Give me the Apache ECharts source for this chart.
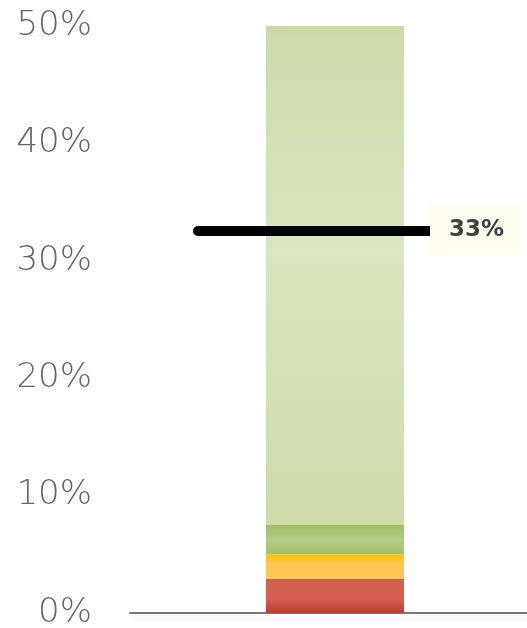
<!DOCTYPE html>
<html><head><meta charset="utf-8">
<script src="https://cdn.jsdelivr.net/npm/echarts@6/dist/echarts.min.js"></script>
<style>html,body{margin:0;padding:0;background:#fff}#c{width:527px;height:628px}</style>
</head><body><div id="c"></div>
<script>
const categories = ['Total'];
const redValues = [2.9];
const yellowValues = [2.1];
const greenValues = [2.5];
const lightGreenValues = [42.5];
const targetValue = 32.6;
const yTicks = [0, 10, 20, 30, 40, 50];

function grad(stops){
  return new echarts.graphic.LinearGradient(0,0,0,1, stops.map(s=>({offset:s[0],color:s[1]})));
}
const chart = echarts.init(document.getElementById('c'), null, {renderer:'canvas'});
const seg = (name, data, color) => ({
  name, type:'bar', stack:'s', data, barWidth:138, itemStyle:{color}, silent:true, animation:false
});
chart.setOption({
  animation:false,
  grid:{left:130, width:410, top:26, bottom:15, outerBoundsMode:'none'},
  xAxis:{type:'category', data:categories, axisTick:{show:false}, axisLabel:{show:false},
    axisLine:{lineStyle:{color:'#7a7a7a', width:2, shadowColor:'rgba(0,0,0,0.12)', shadowBlur:8, shadowOffsetY:5}}},
  yAxis:{type:'value', min:yTicks[0], max:yTicks[yTicks.length-1], interval:10,
    splitLine:{show:false}, axisLine:{show:false}, axisTick:{show:false},
    axisLabel:{formatter:'{value}%', margin:38, color:'#666666', fontFamily:'DejaVu Sans', fontWeight:200, fontSize:34, padding:[7,0,0,0]}},
  series:[
    seg('red', redValues, grad([[0,'#d35f4f'],[0.6,'#d45f50'],[1,'#c23a2c']])),
    seg('yellow', yellowValues, grad([[0,'#ffc000'],[0.4,'#fbc656'],[1,'#fbc75c']])),
    seg('green', greenValues, grad([[0,'#9fbe62'],[0.5,'#b3cc83'],[1,'#a3c067']])),
    Object.assign(seg('light', lightGreenValues, grad([[0,'#cddaa8'],[0.45,'#dae5c1'],[1,'#cddba9']])), {
      markLine:{
        silent:true, symbol:['none','none'],
        lineStyle:{color:'#000', width:10, type:'solid', cap:'round'},
        label:{show:true, position:'end', formatter:() => Math.round(targetValue) + '%', distance:0,
          color:'#404040', fontFamily:'DejaVu Sans', fontWeight:'bold', fontSize:23,
          backgroundColor:'#fffcf0', padding:[14,16,12,19]},
        data:[[{yAxis:targetValue, x:198}, {yAxis:targetValue, x:430}]]
      }
    })
  ]
});
</script></body></html>
